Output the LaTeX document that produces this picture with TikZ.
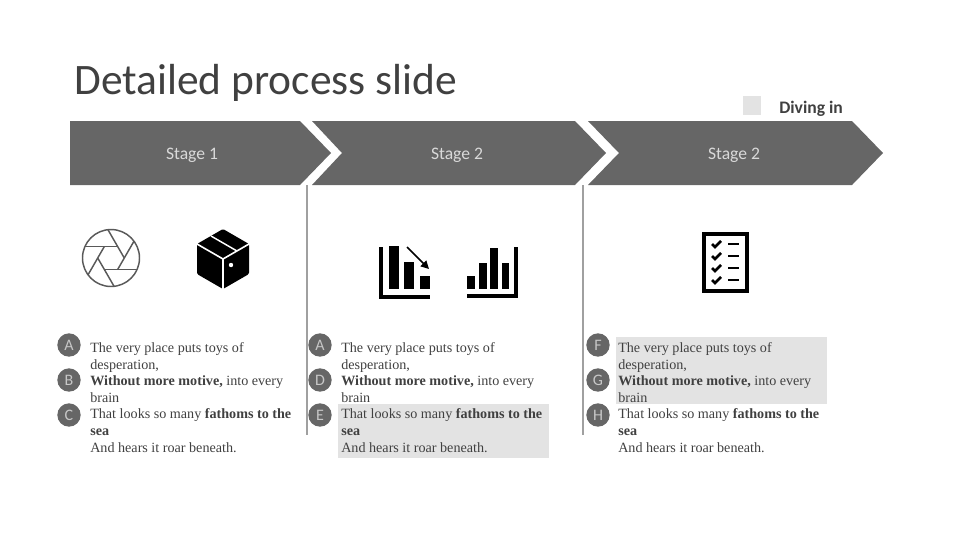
\documentclass[tikz,border=0pt]{standalone}
\usepackage{fontspec}
\setmainfont{Liberation Serif}
\newfontfamily\slidefont{Carlito}
\usetikzlibrary{calc,arrows.meta}
\definecolor{arrowgray}{HTML}{666666}
\definecolor{rulegray}{HTML}{A0A0A0}
\definecolor{hilite}{HTML}{E3E3E3}
\definecolor{bodytext}{HTML}{404040}
\tikzset{
  x=0.75pt,y=-0.75pt,
  stagearrow/.style={fill=arrowgray,draw=none},
  stagelabel/.style={font=\slidefont\fontsize{13.2}{15}\selectfont,text=white!85!black,inner sep=0},
  divider/.style={draw=rulegray,line width=1.1pt},
  hibox/.style={fill=hilite,draw=none},
  badge/.style={circle,fill=arrowgray,draw=none,minimum size=17.5pt,inner sep=0,text=white!78!black,font=\slidefont\fontsize{12}{13}\selectfont},
  txt/.style={anchor=base west,inner sep=0,text=bodytext,font=\fontsize{10.6}{12.5}\selectfont,align=left},
  iconline/.style={draw=black,line width=2.6pt},
  iconbar/.style={fill=black,draw=none},
}
\newcommand{\blockA}{The very place puts toys of\\desperation,}
\newcommand{\blockB}{\textbf{Without more motive,} into every\\brain}
\newcommand{\blockC}{That looks so many \textbf{fathoms to the}\\\textbf{sea}\\And hears it roar beneath.}
\begin{document}
\begin{tikzpicture}
\useasboundingbox (0,0) rectangle (960,540);
\node[anchor=base west,inner sep=0,text=bodytext,font=\slidefont\fontsize{32.6}{38}\selectfont] (title) at (74,94) {Detailed process slide};
% legend
\node[hibox,minimum width=13.5pt,minimum height=14.2pt,inner sep=0,anchor=north west] (swatch) at (743,96) {};
\node[anchor=base west,inner sep=0,font=\slidefont\bfseries\fontsize{13.2}{15}\selectfont,text=bodytext] (legend) at (779,113) {Diving in};
% chevrons
\fill[stagearrow] (70,121) -- (300,121) -- (331,153) -- (300,185) -- (70,185) -- cycle;
\fill[stagearrow] (312,121) -- (575,121) -- (606,153) -- (575,185) -- (312,185) -- (342,153) -- cycle;
\fill[stagearrow] (588,121) -- (852,121) -- (883,153) -- (852,185) -- (588,185) -- (619,153) -- cycle;
\node[stagelabel] (s1) at (192,155) {Stage 1};
\node[stagelabel] (s2) at (457,155) {Stage 2};
\node[stagelabel] (s3) at (734,155) {Stage 2};
% dividers
\draw[divider] (307,185) -- (307,435);
\draw[divider] (583,185) -- (583,435);
% highlights
\fill[hibox] (338,404) rectangle (549,458);
\fill[hibox] (616,337) rectangle (827,404);
% aperture icon
\coordinate (ap) at (111,258);
\draw[draw=black!65,line width=1.1pt] (ap) circle (28.5);
\foreach \a in {270,330,30,90,150,210}{
  \draw[draw=black!65,line width=1.1pt]
    ($(ap)+(\a:11.5)+(\a+90:6.6)$) -- ($(ap)+(\a:11.5)+(\a+90:-26)$);
}
% box icon
\fill[black,rounded corners=1pt] (223,229) -- (249,244) -- (249,274) -- (223,289) -- (197,274) -- (197,244) -- cycle;
\draw[white,line width=1.2pt] (197,244) -- (223,259) -- (249,244) (223,259) -- (223,289);
\draw[white,line width=1.1pt] (211,236) -- (237,251);
\fill[white] (231,265) circle (2.2);
% falling chart
\draw[iconline,line cap=butt] (381,247) -- (381,297) -- (430,297);
\fill[iconbar] (388.5,246) rectangle (399,289);
\fill[iconbar] (404,262) rectangle (413.5,289);
\fill[iconbar] (420,276) rectangle (430,289);
\draw[black,line width=1.2pt,-{Triangle[length=6pt,width=6pt]}] (407,247) -- (429,269);
% rising chart
\draw[iconline,line cap=butt] (467,296) -- (516,296) -- (516,247);
\fill[iconbar] (467,276) rectangle (475,289);
\fill[iconbar] (479,263) rectangle (487,289);
\fill[iconbar] (490,248) rectangle (498,289);
\fill[iconbar] (502,263) rectangle (509,289);
% checklist
\draw[black,line width=3pt] (703.5,233.5) rectangle (746.5,290.5);
\foreach \yy in {244,256,268,280}{
  \draw[black,line width=2pt] (712,\yy) -- (715,\yy+3) -- (721,\yy-3);
  \draw[black,line width=2pt] (728,\yy) -- (739,\yy);
}
% column 1
\node[badge] (a1) at (69,345) {A};
\node[badge] (b1) at (69,380) {B};
\node[badge] (c1) at (69,415) {C};
\node[txt] (ta1) at (90,369) {\blockA};
\node[txt] (tb1) at (90,402) {\blockB};
\node[txt] (tc1) at (90,452) {\blockC};
% column 2
\node[badge] (a2) at (320,345) {A};
\node[badge] (d2) at (320,380) {D};
\node[badge] (e2) at (320,415) {E};
\node[txt] (ta2) at (341,369) {\blockA};
\node[txt] (tb2) at (341,402) {\blockB};
\node[txt] (tc2) at (341,452) {\blockC};
% column 3
\node[badge] (f3) at (598,345) {F};
\node[badge] (g3) at (598,380) {G};
\node[badge] (h3) at (598,415) {H};
\node[txt] (ta3) at (618,369) {\blockA};
\node[txt] (tb3) at (618,402) {\blockB};
\node[txt] (tc3) at (618,452) {\blockC};
\end{tikzpicture}
\end{document}
